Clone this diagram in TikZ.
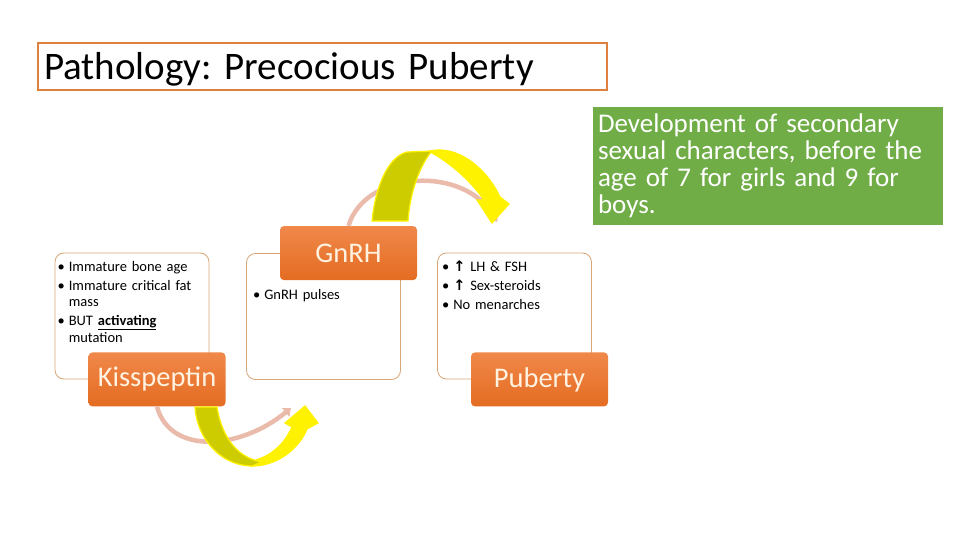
\documentclass[tikz,border=0pt]{standalone}
\usepackage{fontspec}
\setmainfont{Carlito}
\newfontfamily\symfont{DejaVu Sans}
\usetikzlibrary{arrows.meta,positioning}
\frenchspacing
\definecolor{frame}{RGB}{224,128,64}
\definecolor{leaf}{RGB}{112,173,71}
\definecolor{tan}{RGB}{214,165,120}
\definecolor{orangetop}{RGB}{240,136,74}
\definecolor{orangebot}{RGB}{228,108,34}
\definecolor{cream}{RGB}{255,242,225}
\definecolor{salmon}{RGB}{234,186,170}
\definecolor{olive}{RGB}{204,204,0}
\newenvironment{bullets}{\begin{list}{\textbullet}{\setlength{\leftmargin}{12pt}\setlength{\labelwidth}{8pt}%
 \setlength{\labelsep}{4pt}\setlength{\itemsep}{2.5pt}\setlength{\parsep}{0pt}%
 \setlength{\topsep}{0pt}\setlength{\partopsep}{0pt}}}{\end{list}}

\begin{document}
\begin{tikzpicture}[x=1pt, y=-1pt, >=Latex,
 panel/.style={draw=tan, line width=.8pt, rounded corners=9pt, minimum width=154pt, minimum height=126pt},
 tagbox/.style={rounded corners=4pt, top color=orangetop, bottom color=orangebot, text=cream,
  minimum width=137pt, minimum height=54pt, font=\fontsize{28.5}{32}\selectfont},
 items/.style={anchor=north west, inner sep=0pt, text width=148pt, align=left, font=\fontsize{14.5}{16.5}\selectfont},
 loop/.style={draw=salmon, line width=4.5pt, -{Triangle[length=7pt,width=11pt]}},
 twist/.style={draw=yellow, line width=1.2pt}]
\useasboundingbox (0,0) rectangle (960,540);
\node[draw=frame, line width=2.5pt, minimum width=569pt, minimum height=47pt, text width=557pt, align=left,
 text height=33pt, text depth=6pt, font=\fontsize{39}{42}\selectfont] (title) at (322.5,66.5) {Pathology: Precocious Puberty};
\node[fill=leaf, text=white, minimum width=350pt, minimum height=118pt, text width=340pt, align=left,
 font=\fontsize{27}{27}\selectfont] (note) at (768,166)
 {Development of secondary\\sexual characters, before the\\age of 7 for girls and 9 for\\boys.};
\node[panel] (leftbox) at (132,316) {};
\node[panel] (midbox) at (323.5,316.5) {};
\node[panel] (rightbox) at (514.5,316) {};
\node[items] (leftlist) at ([shift={(2,2)}]leftbox.north west)
 {\begin{bullets}\item Immature bone age \item Immature critical fat mass
  \item BUT \underline{\textbf{activating}} mutation\end{bullets}};
\node[items] (midlist) at ([shift={(6,30)}]midbox.north west) {\begin{bullets}\item GnRH pulses\end{bullets}};
\node[items] (rightlist) at ([shift={(4,2)}]rightbox.north west)
 {\begin{bullets}\item {\symfont\bfseries ↑} LH \& FSH \item {\symfont\bfseries ↑} Sex-steroids \item No menarches\end{bullets}};
\node[tagbox] (kiss) at ([xshift=25pt]leftbox.south) {Kisspeptin};
\node[tagbox] (gnrh) at ([xshift=25pt]midbox.north) {GnRH};
\node[tagbox] (puberty) at ([xshift=25pt]rightbox.south) {Puberty};
\coordinate (topend) at (497,222);
\coordinate (lowend) at (291,408);
\draw[loop] (gnrh.north) .. controls (365,170) and (465,165) .. (topend);
\draw[loop] (kiss.south) .. controls (170,455) and (240,450) .. (lowend);
\filldraw[twist, fill=yellow] (430,151) .. controls (455,145) and (485,165) .. (500,197) -- (509,204) -- (492,223)
 -- (477,200) -- (484,200) .. controls (470,180) and (450,163) .. (432,153) -- cycle;
\filldraw[twist, fill=olive] (372,221) .. controls (376,182) and (390,156) .. (407,152) -- (432,151)
 .. controls (420,165) and (410,192) .. (408,221) -- cycle;
\filldraw[twist, fill=yellow] (250,466) .. controls (278,467) and (300,447) .. (307,429) -- (318,423) -- (305,406)
 -- (285,423) -- (292,427) .. controls (284,445) and (270,457) .. (252,461) -- cycle;
\filldraw[twist, fill=olive] (195,407) .. controls (197,440) and (222,466) .. (252,466) -- (262,462)
 .. controls (238,458) and (222,438) .. (217,407) -- cycle;
\end{tikzpicture}
\end{document}
